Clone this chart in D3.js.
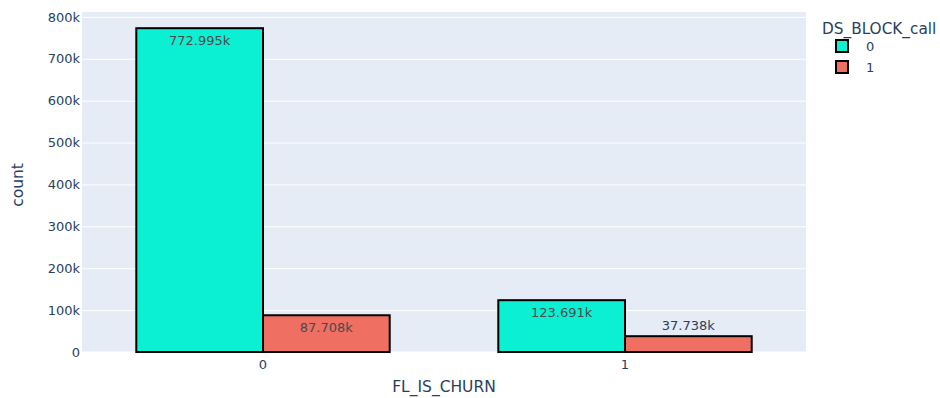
<!DOCTYPE html>
<html>
<head>
<meta charset="utf-8">
<script src="https://cdn.jsdelivr.net/npm/d3@7"></script>
<style>
  body { margin: 0; background: #fff; }
  svg text { font-family: "DejaVu Sans", Verdana, sans-serif; }
</style>
</head>
<body>
<svg id="chart" width="940" height="398"></svg>
<script>
// Churn flag categories on the x axis
const categories = ["0", "1"];
// DS_BLOCK_call groups
const seriesNames = ["0", "1"];
// Counts per group, one value per churn category
const counts0 = [772995, 123691];
const counts1 = [87708, 37738];
const yTicks = [0, 100000, 200000, 300000, 400000, 500000, 600000, 700000, 800000];

const seriesColors = ["#0bf0d2", "#ef6f63"];
const series = [
  { name: seriesNames[0], values: counts0, color: seriesColors[0] },
  { name: seriesNames[1], values: counts1, color: seriesColors[1] }
];

const svg = d3.select("#chart");
const margin = { left: 82, right: 134, top: 12, bottom: 46 };
const W = 940, H = 398;
const pw = W - margin.left - margin.right;
const ph = H - margin.top - margin.bottom;
const g = svg.append("g").attr("transform", `translate(${margin.left},${margin.top})`);

const maxV = d3.max([...counts0, ...counts1]);
const y = d3.scaleLinear().domain([0, maxV * 1.05]).range([ph, 0]);
const x = d3.scaleBand().domain(categories).range([0, pw]).paddingInner(0.3).paddingOuter(0.15);
const xs = d3.scaleBand().domain(seriesNames).range([0, x.bandwidth()]);

// plot background
g.append("rect").attr("width", pw).attr("height", ph).attr("fill", "#e5ecf6");

// gridlines and y tick labels
const yAxis = d3.axisLeft(y).tickValues(yTicks)
  .tickFormat(d => d === 0 ? "0" : (d / 1000) + "k")
  .tickSize(-pw).tickPadding(2);
const ya = g.append("g").call(yAxis);
ya.select(".domain").remove();
ya.selectAll(".tick line").attr("stroke", "#fff").attr("stroke-width", 1)
  .filter(d => d === 0).attr("stroke-width", 2);
ya.selectAll(".tick text").attr("fill", "#2a3f5f").attr("font-size", 13)
  .attr("font-family", "DejaVu Sans, Verdana, sans-serif");

// x axis labels
const xa = g.append("g").attr("transform", `translate(0,${ph})`)
  .call(d3.axisBottom(x).tickSize(0).tickPadding(8));
xa.select(".domain").remove();
xa.selectAll(".tick text").attr("fill", "#2a3f5f").attr("font-size", 13)
  .attr("font-family", "DejaVu Sans, Verdana, sans-serif");

// bars
const fmt = v => (v / 1000).toFixed(3) + "k";
series.forEach(s => {
  const sg = g.append("g");
  s.values.forEach((v, i) => {
    const bx = x(categories[i]) + xs(s.name);
    const by = y(v);
    const bh = ph - by;
    sg.append("rect")
      .attr("x", bx).attr("y", by)
      .attr("width", xs.bandwidth()).attr("height", bh)
      .attr("fill", s.color).attr("stroke", "#000").attr("stroke-width", 2);
    const inside = bh > 22;
    sg.append("text")
      .attr("x", bx + xs.bandwidth() / 2)
      .attr("y", inside ? by + 17 : by - 6)
      .attr("text-anchor", "middle")
      .attr("font-size", 13)
      .attr("fill", inside ? "#4a4a4a" : "#2a3f5f")
      .text(fmt(v));
  });
});

// axis titles
svg.append("text").attr("x", margin.left + pw / 2).attr("y", 392)
  .attr("text-anchor", "middle").attr("font-size", 15.5).attr("fill", "#2a3f5f")
  .text("FL_IS_CHURN");
svg.append("text").attr("transform", `translate(23,${margin.top + ph / 2 + 3}) rotate(-90)`)
  .attr("text-anchor", "middle").attr("font-size", 15.5).attr("fill", "#2a3f5f")
  .text("count");

// legend
const lg = svg.append("g").attr("transform", "translate(822,0)");
lg.append("text").attr("x", 0).attr("y", 34).attr("font-size", 15.3).attr("fill", "#2a3f5f")
  .text("DS_BLOCK_call");
series.forEach((s, i) => {
  const cy = 46 + i * 21;
  lg.append("rect").attr("x", 14).attr("y", cy - 6).attr("width", 12).attr("height", 12)
    .attr("fill", s.color).attr("stroke", "#000").attr("stroke-width", 2);
  lg.append("text").attr("x", 44).attr("y", cy + 5).attr("font-size", 13).attr("fill", "#2a3f5f")
    .text(s.name);
});
</script>
</body>
</html>
